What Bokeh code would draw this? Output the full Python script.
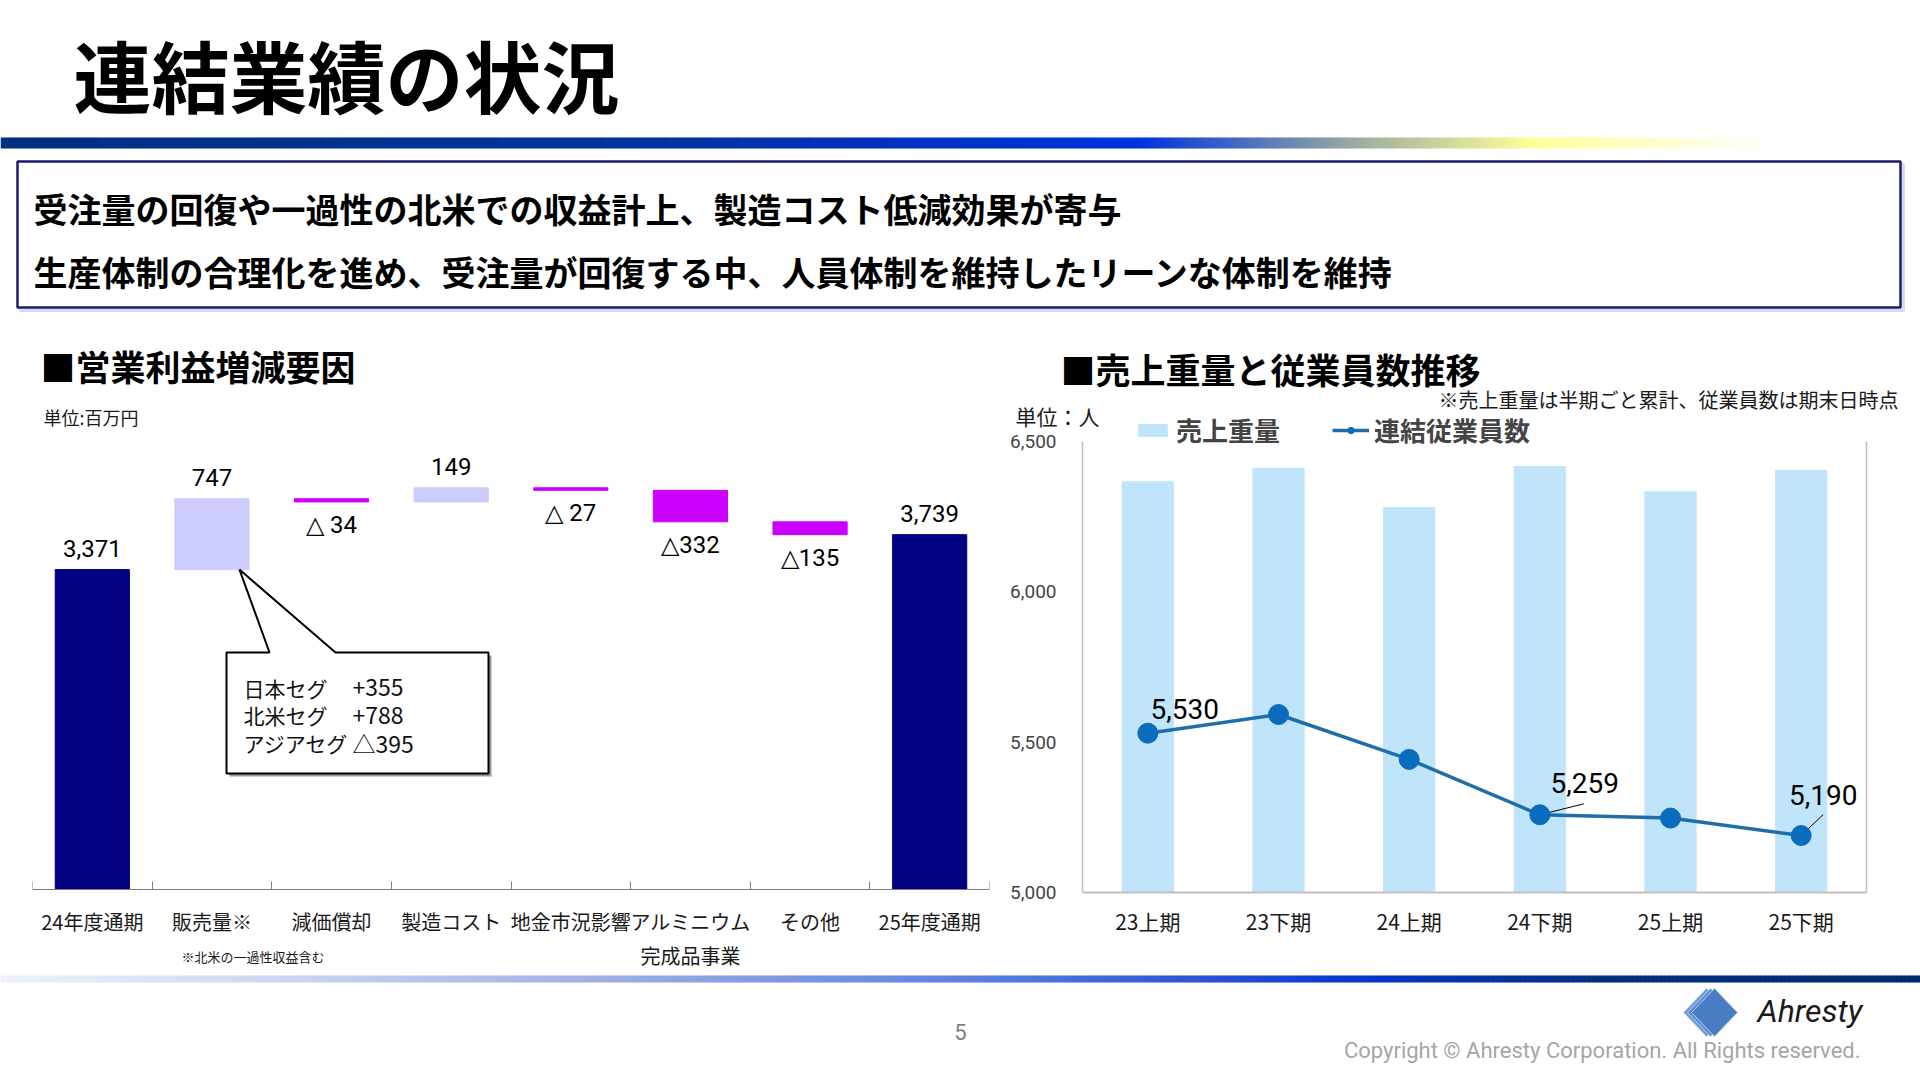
import numpy as np
from bokeh.plotting import figure
from bokeh.layouts import column, row
from bokeh.models import (Range1d, Label, LinearAxis, FixedTicker, Legend, LegendItem,
                          NumeralTickFormatter, ColumnDataSource)
from bokeh.embed import file_html
from bokeh.resources import INLINE
from bokeh.core.properties import value

JP = "Noto Sans CJK JP"
NUM = "Roboto"
LAT = "Roboto"

# ---------------- data ----------------
wf_categories = ["24年度通期", "販売量※", "減価償却", "製造コスト", "地金市況影響",
                 "アルミニウム", "その他", "25年度通期"]
wf_values = [3371, 747, -34, 149, -27, -332, -135, 3739]
wf_value_labels = ["3,371", "747", "△ 34", "149", "△ 27", "△332", "△135", "3,739"]
wf_is_total = [True, False, False, False, False, False, False, True]

breakdown_names = ["日本セグ", "北米セグ", "アジアセグ"]
breakdown_values = ["+355", "+788", "△395"]

periods = ["23上期", "23下期", "24上期", "24下期", "25上期", "25下期"]
employees = [5530, 5592, 5443, 5259, 5248, 5190]
sales_weight_index = [91.1, 94.1, 85.4, 94.5, 88.9, 93.6]   # hidden secondary axis
employee_labels = ["5,530", "", "", "5,259", "", "5,190"]

# ---------------- layout constants ----------------
HEADER_H = 335
FOOTER_H = 110
ROW_H = 1080 - HEADER_H - FOOTER_H
ROW_BOTTOM = HEADER_H + ROW_H
LEFT_W, RIGHT_W = 1000, 920
L_BL, L_BR, L_BT = 32, 11, 2
L_ZERO_PY = 889                 # page y of the waterfall baseline
L_PX_PER_UNIT = 0.0949          # vertical scale of the waterfall
R_ZERO_PY = 892                 # page y of 5,000
R_CAT_OFFSET = 82               # px from right figure edge to first category boundary
R_CAT_PX = 130.67
R_PX_PER_UNIT = 453 / 1500

NAVY = "#000080"
POS = "#ccccff"
NEG = "#cc00ff"
BAR_BLUE = "#c0e4fa"
LINE_BLUE = "#1f6eaa"
MARK_BLUE = "#0b6bbd"
AXIS_GRAY = "#bfbfbf"


def add_label(p, x, y, text, size, color="#000000", font=JP, style="normal",
              align="left", baseline="middle"):
    p.add_layout(Label(x=x, y=y, text=text, text_font=font, text_font_size=f"{size}px",
                       text_font_style=style, text_color=color, text_align=align,
                       text_baseline=baseline))


def canvas(w, h, y_top, y_bottom):
    p = figure(width=w, height=h, x_range=Range1d(0, w), y_range=Range1d(y_bottom, y_top),
               output_backend="svg", toolbar_location=None, x_axis_location=None,
               y_axis_location=None, min_border=0)
    p.outline_line_color = None
    p.grid.visible = False
    return p


def hex2rgb(h):
    return [int(h[i:i + 2], 16) for i in (1, 3, 5)]


def gradient(p, x0, x1, y0, y1, stops, n=480):
    edges = np.linspace(x0, x1, n + 1)
    mids = (edges[:-1] + edges[1:]) / 2
    sx = [s[0] for s in stops]
    cols = np.array([hex2rgb(s[1]) for s in stops])
    colors = []
    for m in mids:
        rgb = [int(round(np.interp(m, sx, cols[:, k]))) for k in range(3)]
        colors.append("#%02x%02x%02x" % tuple(rgb))
    p.quad(left=edges[:-1], right=edges[1:] + 0.6, top=y0, bottom=y1,
           fill_color=colors, line_color=None)


# ================= header =================
head = canvas(1920, HEADER_H, 0, HEADER_H)
add_label(head, 73, 73, "連結業績の状況", 78, style="bold")
gradient(head, 0, 1920, 137, 148,
         [(0, "#00307f"), (600, "#00339a"), (1140, "#0033dd"), (1260, "#5577bb"),
          (1350, "#99a8a0"), (1530, "#ffff99"), (1650, "#ffffcc"), (1770, "#ffffff"),
          (1920, "#ffffff")])
head.quad(left=20, right=1903, top=164, bottom=310, fill_color=None,
          line_color="#d8d8ee", line_width=3)
head.quad(left=17, right=1900, top=161, bottom=307, fill_color="white",
          line_color="#1c1c6c", line_width=2.5)
add_label(head, 33, 208, "受注量の回復や一過性の北米での収益計上、製造コスト低減効果が寄与", 34, style="bold")
add_label(head, 33, 271, "生産体制の合理化を進め、受注量が回復する中、人員体制を維持したリーンな体制を維持", 34, style="bold")

# ================= left: waterfall =================
n = len(wf_values)
xs = list(range(n))
bottoms, tops, colors = [], [], []
running = 0
for v, tot in zip(wf_values, wf_is_total):
    if tot:
        b, t, c = 0, v, NAVY
        running = v
    else:
        b, t = sorted([running, running + v])
        running += v
        c = POS if v > 0 else NEG
    bottoms.append(b)
    tops.append(t)
    colors.append(c)

L_FW = LEFT_W - L_BL - L_BR
L_Y0 = -(ROW_BOTTOM - L_ZERO_PY) / L_PX_PER_UNIT
L_Y1 = (L_ZERO_PY - (HEADER_H + L_BT)) / L_PX_PER_UNIT

left = figure(width=LEFT_W, height=ROW_H, x_range=Range1d(-0.5, n - 0.5),
              y_range=Range1d(L_Y0, L_Y1), output_backend="svg", toolbar_location=None,
              y_axis_location=None, min_border_left=L_BL, min_border_right=L_BR,
              min_border_top=L_BT, min_border_bottom=0)
left.outline_line_color = None
left.grid.visible = False


def LX(px):
    return -0.5 + (px - L_BL) * n / L_FW


def LY(py):
    return (L_ZERO_PY - py) / L_PX_PER_UNIT


left.vbar(x=xs, bottom=bottoms, top=tops, width=0.62, fill_color=colors, line_color=colors)

above = [tot or v > 0 for v, tot in zip(wf_values, wf_is_total)]
lab_src = ColumnDataSource(dict(
    x=xs,
    y=[t if a else b for t, b, a in zip(tops, bottoms, above)],
    text=wf_value_labels,
    yoff=[-21 if a else 23 for a in above],
))
left.text(x="x", y="y", text="text", source=lab_src, text_align="center",
          text_baseline="middle", y_offset="yoff", text_font=value(NUM),
          text_font_size="24px", text_color="#000000")

ax = left.xaxis[0]
ax.fixed_location = 0
ax.ticker = FixedTicker(ticks=xs, minor_ticks=[i - 0.5 for i in range(n + 1)])
ax.major_label_overrides = {i: c for i, c in enumerate(wf_categories)}
ax.major_tick_line_color = None
ax.major_tick_out = 0
ax.major_tick_in = 0
ax.minor_tick_in = 8
ax.minor_tick_out = 0
ax.minor_tick_line_color = "#7f7f7f"
ax.axis_line_color = "#7f7f7f"
ax.axis_line_width = 1.2
ax.major_label_text_font = JP
ax.major_label_text_font_size = "20px"
ax.major_label_text_color = "#1a1a1a"
ax.major_label_standoff = 17

add_label(left, LX(40), LY(365), "■営業利益増減要因", 35, style="bold")
add_label(left, LX(43), LY(416), "単位:百万円", 18, color="#1a1a1a")
add_label(left, 5, LY(955), "完成品事業", 20, color="#1a1a1a", align="center")
add_label(left, LX(181), LY(956), "※北米の一過性収益含む", 13, color="#1a1a1a")

# callout for 販売量
tip_x, tip_y = LX(239), bottoms[1]
bx0, bx1, by0, by1 = LX(226), LX(488), LY(652), LY(773)
px0, px1 = LX(269), LX(335)
dx, dy = LX(229) - LX(226), LY(655) - LY(652)
left.patch([bx0 + dx, bx1 + dx, bx1 + dx, bx0 + dx], [by0 + dy, by0 + dy, by1 + dy, by1 + dy],
           fill_color="#9a9a9a", line_color=None)
left.patch([bx0, px0, tip_x, px1, bx1, bx1, bx0], [by0, by0, tip_y, by0, by0, by1, by1],
           fill_color="white", line_color="#000000", line_width=2)
for i, (nm, vl) in enumerate(zip(breakdown_names, breakdown_values)):
    yy = LY(687 + 27.5 * i)
    add_label(left, LX(243), yy, nm, 21, color="#111111")
    add_label(left, LX(352), yy, vl, 23, color="#111111")

# ================= right: weight & employees =================
m = len(periods)
rx = list(range(m))
R_X0 = -0.5 - R_CAT_OFFSET / R_CAT_PX
R_X1 = R_X0 + RIGHT_W / R_CAT_PX
R_Y0 = 5000 - (ROW_BOTTOM - R_ZERO_PY) / R_PX_PER_UNIT
R_Y1 = 5000 + (R_ZERO_PY - HEADER_H) / R_PX_PER_UNIT
W0 = 100 * (R_Y0 - 5000) / 1500
W1 = 100 * (R_Y1 - 5000) / 1500

right = figure(width=RIGHT_W, height=ROW_H, x_range=Range1d(R_X0, R_X1),
               y_range=Range1d(R_Y0, R_Y1), output_backend="svg", toolbar_location=None,
               min_border=0)
right.outline_line_color = None
right.grid.visible = False
right.extra_y_ranges = {"weight": Range1d(W0, W1)}


def RX(px):
    return R_X0 + (px - LEFT_W) / R_CAT_PX


def RY(py):
    return 5000 + (R_ZERO_PY - py) / R_PX_PER_UNIT


bars = right.vbar(x=rx, top=sales_weight_index, bottom=0, width=0.4, y_range_name="weight",
                  fill_color=BAR_BLUE, line_color=None)
line_r = right.line(rx, employees, line_color=LINE_BLUE, line_width=3.5)
# leader lines for labelled points
lead_idx = [3, 5]
lead_dx_px = [44, 22]
lead_dy_px = [11, 21]
right.segment(x0=[rx[i] for i in lead_idx], y0=[employees[i] for i in lead_idx],
              x1=[rx[i] + d / R_CAT_PX for i, d in zip(lead_idx, lead_dx_px)],
              y1=[employees[i] + d / R_PX_PER_UNIT for i, d in zip(lead_idx, lead_dy_px)],
              line_color="#000000", line_width=1)
scat_r = right.scatter(rx, employees, size=20, marker="circle", fill_color=MARK_BLUE,
                       line_color=MARK_BLUE)

lab_i = [i for i, t in enumerate(employee_labels) if t]
right.text(x=[rx[i] for i in lab_i], y=[employees[i] for i in lab_i],
           text=[employee_labels[i] for i in lab_i],
           x_offset=[37, 45, 22], y_offset=[-24, -32, -41],
           text_align="center", text_baseline="middle", text_font=value(NUM),
           text_font_size="28px", text_color="#000000")

yax = right.yaxis[0]
yax.ticker = FixedTicker(ticks=[5000, 5500, 6000, 6500])
yax.formatter = NumeralTickFormatter(format="0,0")
yax.bounds = (5000, 6500)
yax.fixed_location = -0.5
yax.major_tick_line_color = None
yax.minor_tick_line_color = None
yax.axis_line_color = AXIS_GRAY
yax.axis_line_width = 1.5
yax.major_label_text_font = NUM
yax.major_label_text_font_size = "19px"
yax.major_label_standoff = 20

rax = LinearAxis(y_range_name="weight", ticker=FixedTicker(ticks=[]), bounds=(0, 100),
                 fixed_location=m - 0.5,
                 major_tick_line_color=None, minor_tick_line_color=None,
                 axis_line_color=AXIS_GRAY, axis_line_width=1.5,
                 major_label_text_font_size="0px")
right.add_layout(rax, "right")

xax = right.xaxis[0]
xax.fixed_location = 5000
xax.ticker = FixedTicker(ticks=rx)
xax.bounds = (-0.5, m - 0.5)
xax.major_label_overrides = {i: p for i, p in enumerate(periods)}
xax.major_tick_line_color = None
xax.major_tick_out = 0
xax.major_tick_in = 0
xax.minor_tick_line_color = None
xax.axis_line_color = AXIS_GRAY
xax.axis_line_width = 2
xax.major_label_text_font = JP
xax.major_label_text_font_size = "21px"
xax.major_label_text_color = "#1a1a1a"
xax.major_label_standoff = 13

LEG_BOTTOM_PY = 448
legend = Legend(items=[LegendItem(label="売上重量", renderers=[bars]),
                       LegendItem(label="連結従業員数", renderers=[line_r, scat_r])],
                orientation="horizontal", location=(134, ROW_BOTTOM - LEG_BOTTOM_PY),
                padding=0, margin=0,
                spacing=52, glyph_width=37, glyph_height=16, label_standoff=5,
                label_text_font=JP, label_text_font_size="26px", label_text_font_style="bold",
                border_line_color=None, background_fill_alpha=0)
right.add_layout(legend)

add_label(right, RX(1060), RY(366), "■売上重量と従業員数推移", 35, style="bold")
add_label(right, RX(1898), RY(397), "※売上重量は半期ごと累計、従業員数は期末日時点", 20,
          color="#1a1a1a", align="right")
add_label(right, RX(1015), RY(414), "単位：人", 21, color="#1a1a1a")

# ================= footer =================
foot = canvas(1920, FOOTER_H, ROW_BOTTOM, 1080)
gradient(foot, 0, 1920, 975, 982,
         [(0, "#eef2fb"), (300, "#c8d4f0"), (600, "#9db0e6"), (980, "#5a7fe0"),
          (1350, "#0a36d0"), (1600, "#00307f"), (1920, "#002a70")])
add_label(foot, 960, 1031, "5", 22, color="#808080", font=LAT, align="center")
for off, col in [(8, "#6f9ad6"), (4, "#5b8bd0"), (0, "#4a7cc4")]:
    cx = 1714 - off
    foot.patch([cx - 23, cx, cx + 23, cx], [1012, 988, 1012, 1036], fill_color=col,
               line_color="#b8cdee", line_width=1)
add_label(foot, 1757, 1010, "Ahresty", 32, color="#1a1a1a", font=LAT, style="italic")
add_label(foot, 1860, 1050, "Copyright © Ahresty Corporation. All Rights reserved.", 22,
          color="#a6a6a6", font=LAT, align="right")

page = column(head, row(left, right), foot)
open("out.html", "w").write(file_html(page, INLINE))
